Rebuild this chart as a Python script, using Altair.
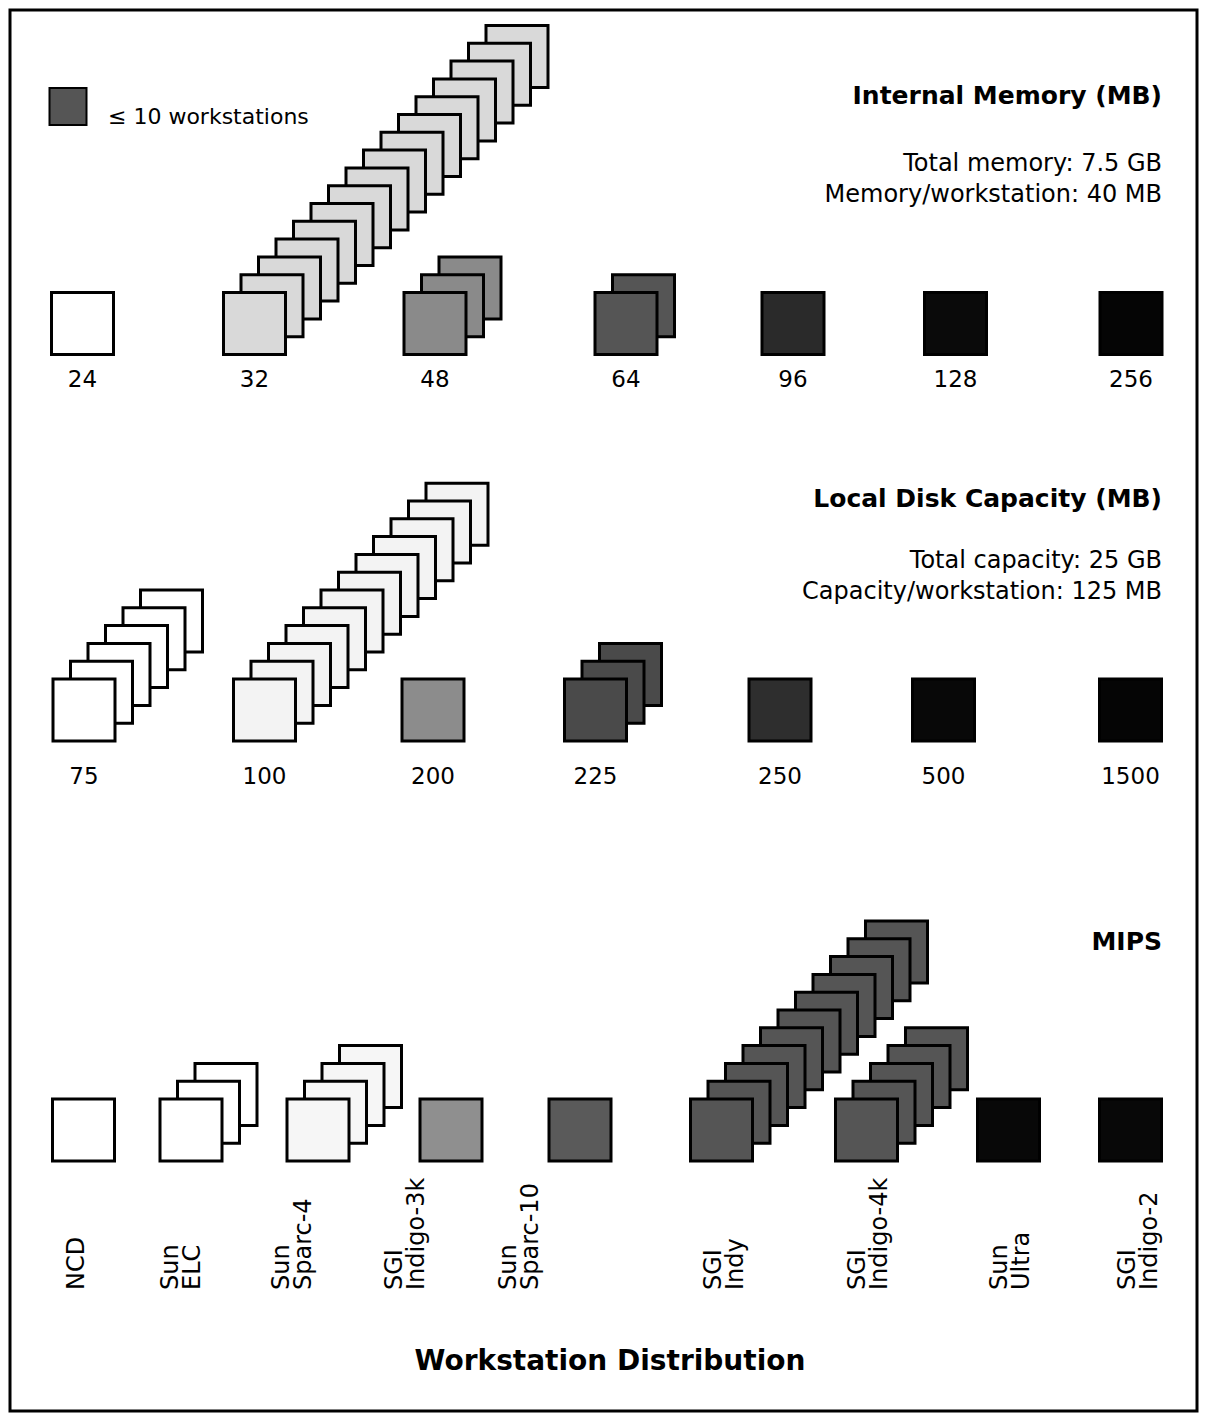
import altair as alt
import pandas as pd

# ---------------- data ----------------
mem_labels = ["24", "32", "48", "64", "96", "128", "256"]
mem_counts = [1, 16, 3, 2, 1, 1, 1]          # stacked squares, each <= 10 workstations
mem_shades = ["#ffffff", "#d9d9d9", "#8a8a8a", "#555555", "#2a2a2a", "#0a0a0a", "#050505"]

disk_labels = ["75", "100", "200", "225", "250", "500", "1500"]
disk_counts = [6, 12, 1, 3, 1, 1, 1]
disk_shades = ["#ffffff", "#f3f3f3", "#8c8c8c", "#4a4a4a", "#2e2e2e", "#080808", "#050505"]

mips_labels = ["NCD", "Sun ELC", "Sun Sparc-4", "SGI Indigo-3k", "Sun Sparc-10",
               "SGI Indy", "SGI Indigo-4k", "Sun Ultra", "SGI Indigo-2"]
mips_counts = [1, 3, 4, 1, 1, 11, 5, 1, 1]
mips_shades = ["#ffffff", "#ffffff", "#f6f6f6", "#8f8f8f", "#5a5a5a",
               "#555555", "#555555", "#080808", "#080808"]

# ---------------- layout (scale ranges, px) ----------------
FONT = "DejaVu Sans"
MEM_RANGE = [72.5, 244.5, 425, 616, 783, 945.5, 1121]
DISK_RANGE = [74, 254.5, 423, 585.5, 770, 933.5, 1120.5]
MIPS_RANGE = [73.5, 181, 308, 441, 570, 711.5, 856.5, 998.5, 1120.5]
MIPS_LABEL_RANGE = [67, 161, 272, 385, 499, 704, 848, 990, 1118]
STEP_X, STEP_Y = 17.5, 17.8  # offset of each stacked square
U = 0.05                     # one stack level in slot units
SQ = 3844                    # square mark area


def slot_scale(xrange):
    # piecewise-linear: slot i -> its pixel position, with a constant
    # STEP_X px per stack level inside each slot
    dom, rng = [], []
    for i, r in enumerate(xrange):
        dom += [i, i + 0.9]
        rng += [r, r + 0.9 / U * STEP_X]
    return alt.Scale(domain=dom, range=rng, nice=False, zero=False)


def panel(labels, counts, shades, xrange, base_y, label_off, rotated=False, label_range=None):
    n = len(labels)
    rows = []
    for i, (lab, c) in enumerate(zip(labels, counts)):
        for lv in range(c):
            rows.append({"slot": i, "level": lv, "cat": lab})
    sq_df = pd.DataFrame(rows)
    lab_df = pd.DataFrame({"slot": list(range(n)), "level": [0] * n, "cat": labels})

    xenc = alt.X("pos:Q", scale=slot_scale(xrange), axis=None)
    yenc = alt.Y("level:Q", scale=alt.Scale(domain=[0, 1], range=[base_y, base_y - STEP_Y], nice=False, zero=False), axis=None)

    squares = alt.Chart(sq_df).transform_calculate(
        pos=f"datum.slot + datum.level * {U}"
    ).mark_square(
        size=SQ, filled=True, stroke="black", strokeWidth=3, opacity=1
    ).encode(
        x=xenc, y=yenc,
        fill=alt.Fill("cat:N", scale=alt.Scale(domain=labels, range=shades), legend=None),
        order=alt.Order("level:Q", sort="descending"),
    )
    if rotated:
        lx = alt.X("pos:Q", scale=slot_scale(label_range), axis=None)
        # dx runs along the rotated text: negative moves it down the page
        txt = alt.Chart(lab_df).transform_calculate(pos="datum.slot").mark_text(
            angle=270, align="left", baseline="middle", lineBreak=" ", lineHeight=22,
            dx=-label_off, fontSize=24, font=FONT, color="black"
        ).encode(x=lx, y=yenc, text="cat:N")
        return alt.layer(squares, txt).resolve_scale(x="independent")
    txt = alt.Chart(lab_df).transform_calculate(pos="datum.slot").mark_text(
        align="center", baseline="middle", dy=label_off, fontSize=23, font=FONT, color="black"
    ).encode(x=xenc, y=yenc, text="cat:N")
    return alt.layer(squares, txt)


def note(t, x, y, size, bold=False, align="right"):
    return alt.Chart(pd.DataFrame({"t": [t]})).mark_text(
        align=align, baseline="alphabetic", fontSize=size,
        fontWeight="bold" if bold else "normal", font=FONT, color="black"
    ).encode(text="t:N", x=alt.value(x), y=alt.value(y))


p_mem = panel(mem_labels, mem_counts, mem_shades, MEM_RANGE, 313.5, 56.5)
p_disk = panel(disk_labels, disk_counts, disk_shades, DISK_RANGE, 700, 67)
p_mips = panel(mips_labels, mips_counts, mips_shades, MIPS_RANGE, 1120, 160,
               rotated=True, label_range=MIPS_LABEL_RANGE)

legend_sq = alt.Chart(pd.DataFrame({"k": ["legend"]})).mark_square(
    size=1369, filled=True, fill="#555555", stroke="black", strokeWidth=2, opacity=1
).encode(x=alt.value(58), y=alt.value(96.5))

notes = [
    note("≤ 10 workstations", 98, 114, 22, align="left"),
    note("Internal Memory (MB)", 1152, 94, 25, bold=True),
    note("Total memory: 7.5 GB", 1152, 161, 24),
    note("Memory/workstation: 40 MB", 1152, 192, 24),
    note("Local Disk Capacity (MB)", 1152, 497, 25, bold=True),
    note("Total capacity: 25 GB", 1152, 558, 24),
    note("Capacity/workstation: 125 MB", 1152, 589, 24),
    note("MIPS", 1152, 940, 25, bold=True),
    note("Workstation Distribution", 600, 1360, 28, bold=True, align="center"),
]

chart = alt.layer(p_mem, p_disk, p_mips, legend_sq, *notes).resolve_scale(
    x="independent", y="independent", fill="independent"
).properties(
    width=1187, height=1401,
    autosize=alt.AutoSizeParams(type="none"),
    padding=2,
    background="white",
).configure_view(stroke="black", strokeWidth=3)

chart.save("out.html", embed_options={"renderer": "svg", "actions": False})
